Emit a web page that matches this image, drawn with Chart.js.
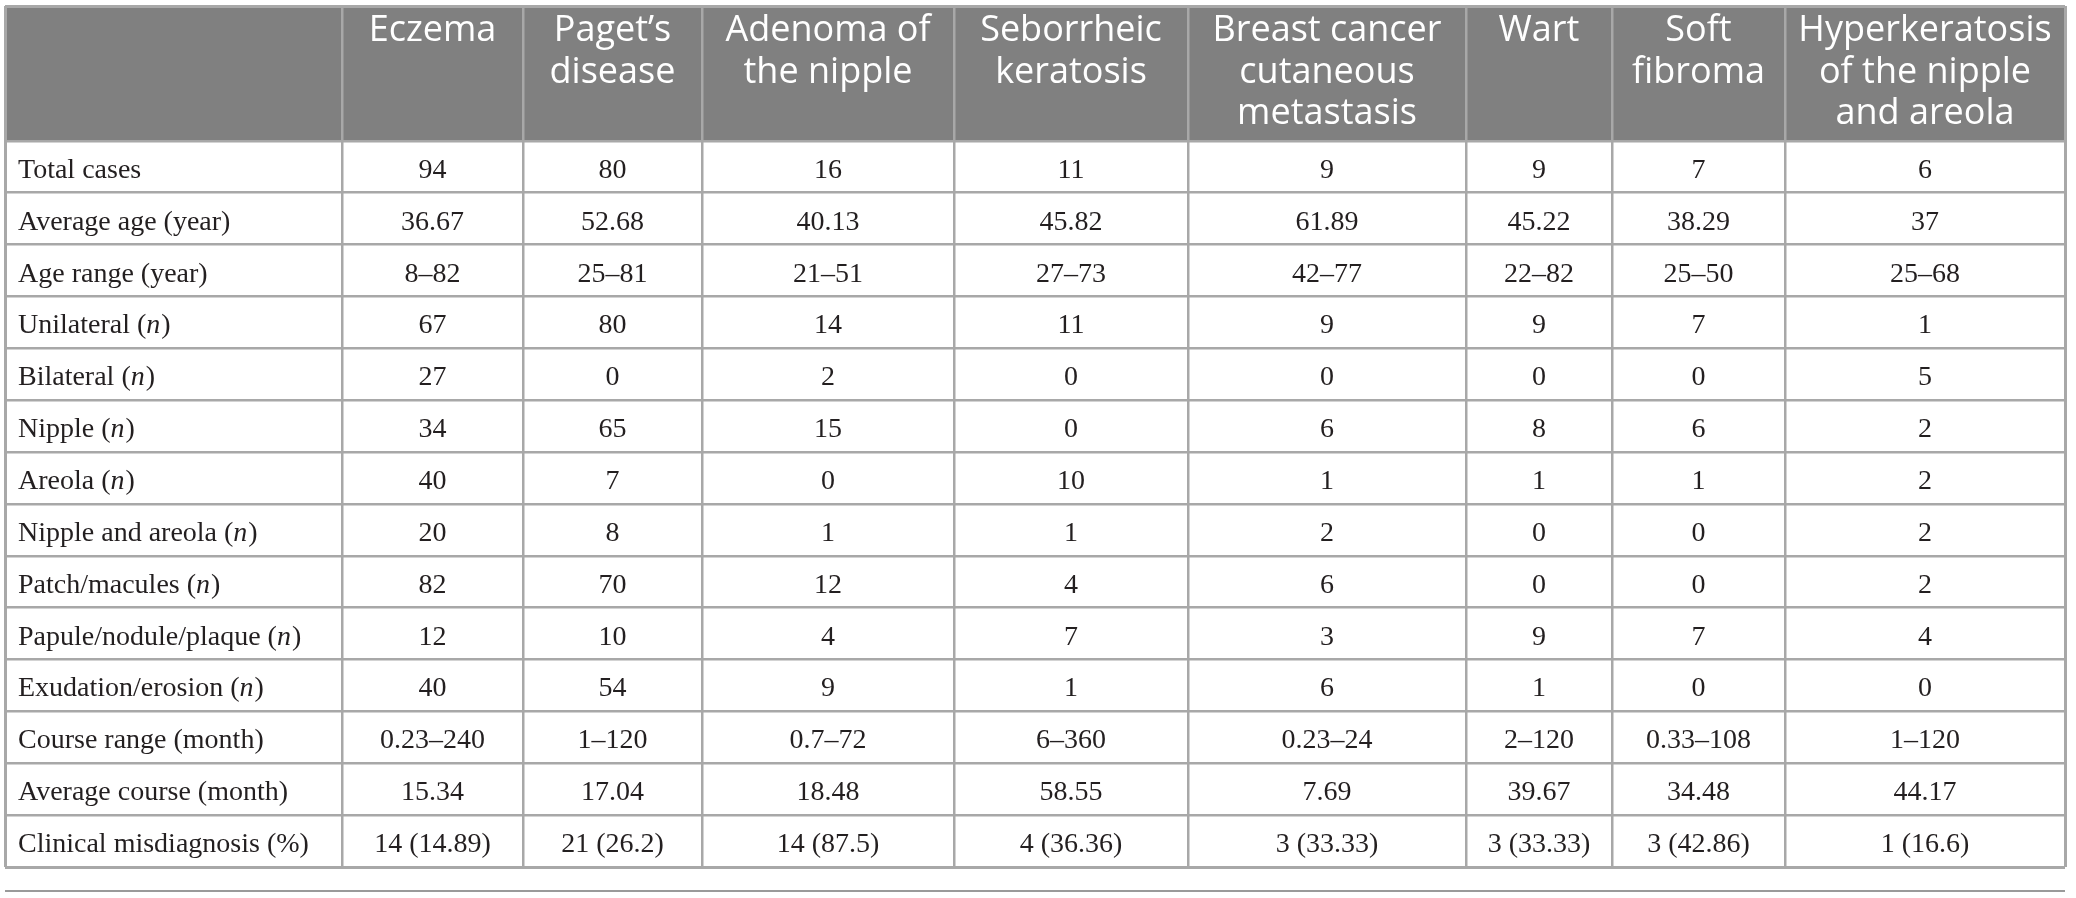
<!DOCTYPE html>
<html>
<head>
<meta charset="utf-8">
<script src="https://cdn.jsdelivr.net/npm/chart.js@4.4.1/dist/chart.umd.min.js"></script>
<style>
html, body { margin: 0; padding: 0; background: #fff; }
#wrap { position: relative; width: 2076px; height: 898px; }
</style>
</head>
<body>
<div id="wrap"><canvas id="table-chart"></canvas></div>
<script>
// columns (header text split in lines)
var diseases = [
    ['Eczema'],
    ['Paget\u2019s', 'disease'],
    ['Adenoma of', 'the nipple'],
    ['Seborrheic', 'keratosis'],
    ['Breast cancer', 'cutaneous', 'metastasis'],
    ['Wart'],
    ['Soft', 'fibroma'],
    ['Hyperkeratosis', 'of the nipple', 'and areola']
];

var rowLabels = [
    'Total cases',
    'Average age (year)',
    'Age range (year)',
    'Unilateral (n)',
    'Bilateral (n)',
    'Nipple (n)',
    'Areola (n)',
    'Nipple and areola (n)',
    'Patch/macules (n)',
    'Papule/nodule/plaque (n)',
    'Exudation/erosion (n)',
    'Course range (month)',
    'Average course (month)',
    'Clinical misdiagnosis (%)'
];

var totalCases = ['94', '80', '16', '11', '9', '9', '7', '6'];
var averageAge = ['36.67', '52.68', '40.13', '45.82', '61.89', '45.22', '38.29', '37'];
var ageRange = ['8\u201382', '25\u201381', '21\u201351', '27\u201373', '42\u201377', '22\u201382', '25\u201350', '25\u201368'];
var unilateral = ['67', '80', '14', '11', '9', '9', '7', '1'];
var bilateral = ['27', '0', '2', '0', '0', '0', '0', '5'];
var nipple = ['34', '65', '15', '0', '6', '8', '6', '2'];
var areola = ['40', '7', '0', '10', '1', '1', '1', '2'];
var nippleAndAreola = ['20', '8', '1', '1', '2', '0', '0', '2'];
var patchMacules = ['82', '70', '12', '4', '6', '0', '0', '2'];
var papuleNodule = ['12', '10', '4', '7', '3', '9', '7', '4'];
var exudation = ['40', '54', '9', '1', '6', '1', '0', '0'];
var courseRange = ['0.23\u2013240', '1\u2013120', '0.7\u201372', '6\u2013360', '0.23\u201324', '2\u2013120', '0.33\u2013108', '1\u2013120'];
var averageCourse = ['15.34', '17.04', '18.48', '58.55', '7.69', '39.67', '34.48', '44.17'];
var misdiagnosis = ['14 (14.89)', '21 (26.2)', '14 (87.5)', '4 (36.36)', '3 (33.33)', '3 (33.33)', '3 (42.86)', '1 (16.6)'];

var rows = [totalCases, averageAge, ageRange, unilateral, bilateral, nipple, areola,
    nippleAndAreola, patchMacules, papuleNodule, exudation, courseRange, averageCourse, misdiagnosis];

// layout: column widths (x units) and header height (in row units)
var colWidths = [337, 181, 179, 252, 234, 278, 146, 173, 280];
var headerRows = 2.6;

var colEdges = [0];
colWidths.forEach(function (w, i) { colEdges.push(colEdges[i] + w); });
var rowEdges = [0];
for (var r = 0; r <= rows.length; r++) rowEdges.push(headerRows + r);

var lineColor = '#a8a8a8';
var headerColor = '#808080';
var textColor = '#231f20';

// one point per cell, placed at the cell centre
var cells = [];
rows.forEach(function (values, r) {
    cells.push({ x: colEdges[0], y: headerRows + r + 0.5, text: rowLabels[r], left: true });
    values.forEach(function (v, c) {
        cells.push({ x: (colEdges[c + 1] + colEdges[c + 2]) / 2, y: headerRows + r + 0.5, text: v });
    });
});

function drawLabel(ctx, text, x, y) {
    // "(n)" is set in italic
    var m = text.match(/^(.*\()n(\))$/);
    ctx.font = '28px "Liberation Serif", "Times New Roman", serif';
    if (!m) { ctx.fillText(text, x, y); return; }
    ctx.fillText(m[1], x, y);
    x += ctx.measureText(m[1]).width;
    ctx.font = 'italic 28px "Liberation Serif", "Times New Roman", serif';
    ctx.fillText('n', x, y);
    x += ctx.measureText('n').width + 1;
    ctx.font = '28px "Liberation Serif", "Times New Roman", serif';
    ctx.fillText(m[2], x, y);
}

var tablePlugin = {
    id: 'tablePlugin',
    beforeDraw: function (chart) {
        var ctx = chart.ctx, x = chart.scales.x, y = chart.scales.y;
        ctx.save();
        ctx.fillStyle = '#ffffff';
        ctx.fillRect(0, 0, chart.width, chart.height);
        ctx.fillStyle = headerColor;
        var top = y.getPixelForValue(0), bottom = y.getPixelForValue(headerRows);
        ctx.fillRect(x.left, top, x.right - x.left, bottom - top);
        ctx.restore();
    },
    afterDatasetsDraw: function (chart) {
        var ctx = chart.ctx, x = chart.scales.x, y = chart.scales.y;
        ctx.save();
        // header
        ctx.fillStyle = '#ffffff';
        ctx.textAlign = 'center';
        ctx.textBaseline = 'alphabetic';
        ctx.font = '36px "Open Sans", "Noto Sans", sans-serif';
        var top = y.getPixelForValue(0);
        diseases.forEach(function (lines, c) {
            var cx = x.getPixelForValue((colEdges[c + 1] + colEdges[c + 2]) / 2);
            lines.forEach(function (line, i) {
                ctx.fillText(line, cx, top + 35 + i * 41.5);
            });
        });
        // body cells
        ctx.fillStyle = textColor;
        chart.getDatasetMeta(0).data.forEach(function (pt, i) {
            var cell = cells[i];
            if (cell.left) {
                ctx.textAlign = 'left';
                drawLabel(ctx, cell.text, pt.x + 13, pt.y + 11);
            } else {
                ctx.textAlign = 'center';
                ctx.font = '28px "Liberation Serif", "Times New Roman", serif';
                ctx.fillText(cell.text, pt.x, pt.y + 11);
            }
        });
        // rule under the table
        ctx.strokeStyle = '#9a9a9a';
        ctx.lineWidth = 2;
        ctx.beginPath();
        ctx.moveTo(x.left, y.bottom + 24);
        ctx.lineTo(x.right, y.bottom + 24);
        ctx.stroke();
        ctx.restore();
    }
};

function edgeWidth(edges) {
    return function (c) {
        return (c.index === 0 || c.index === edges.length - 1) ? 3 : 2.5;
    };
}

var ctx = document.getElementById('table-chart').getContext('2d');

var chart = new Chart(ctx, {
    type: 'scatter',
    data: {
        datasets: [{
            data: cells,
            pointRadius: 0,
            pointHoverRadius: 0
        }]
    },
    options: {
        responsive: true,
        maintainAspectRatio: false,
        animation: false,
        events: [],
        layout: { padding: { left: 5, right: 11, top: 6, bottom: 31 } },
        plugins: { legend: { display: false }, tooltip: { enabled: false } },
        scales: {
            x: {
                type: 'linear',
                min: 0,
                max: colEdges[colEdges.length - 1],
                afterBuildTicks: function (axis) {
                    axis.ticks = colEdges.map(function (v) { return { value: v }; });
                },
                ticks: { display: false },
                border: { display: false },
                grid: { color: lineColor, lineWidth: edgeWidth(colEdges), drawTicks: false }
            },
            y: {
                type: 'linear',
                reverse: true,
                min: 0,
                max: rowEdges[rowEdges.length - 1],
                afterBuildTicks: function (axis) {
                    axis.ticks = rowEdges.map(function (v) { return { value: v }; });
                },
                ticks: { display: false },
                border: { display: false },
                grid: { color: lineColor, lineWidth: edgeWidth(rowEdges), drawTicks: false }
            }
        }
    },
    plugins: [tablePlugin]
});
</script>
</body>
</html>
